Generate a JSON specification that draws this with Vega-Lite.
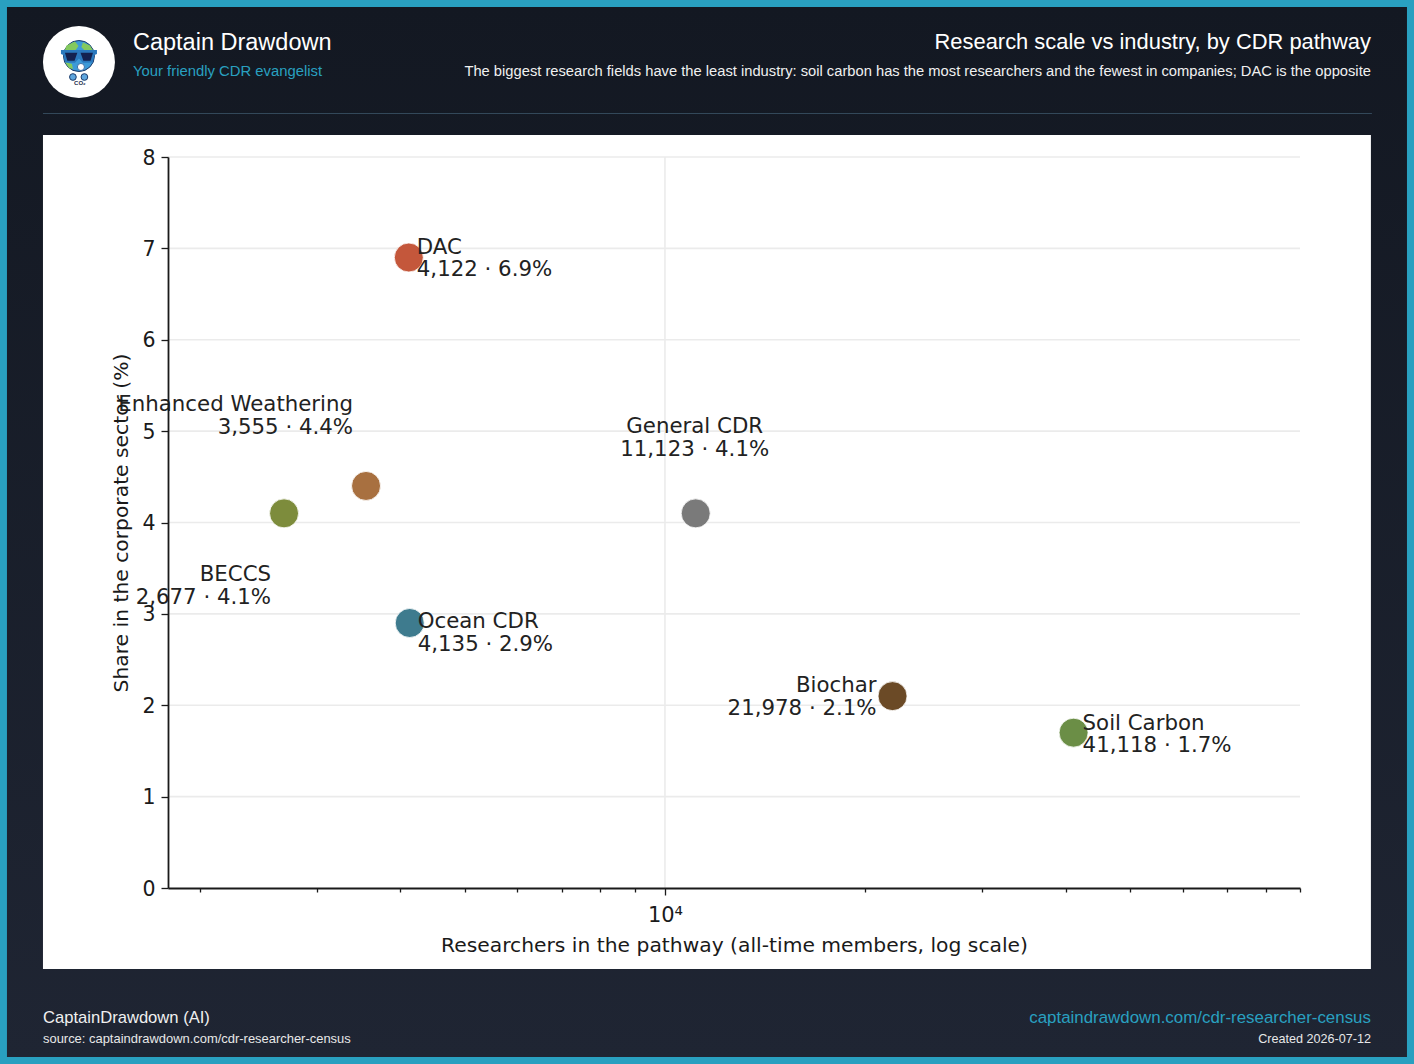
{
  "$schema": "https://vega.github.io/schema/vega-lite/v6.json",
  "width": 1132,
  "height": 731,
  "autosize": "none",
  "padding": {"left": 168, "top": 157, "right": 114, "bottom": 176},
  "background": "#29a0c0",
  "config": {"view": {"stroke": null}},
  "layer": [
    {
      "data": {"values": [{"part": "page"}]},
      "mark": {"type": "rect", "fill": {"gradient": "linear", "x1": 0, "y1": 0, "x2": 0, "y2": 1, "stops": [{"offset": 0, "color": "#131822"}, {"offset": 1, "color": "#1f2533"}]}},
      "encoding": {
        "x": {"datum": 1026.3, "type": "quantitative"},
        "x2": {"datum": 130310},
        "y": {"datum": 9.6416, "type": "quantitative"},
        "y2": {"datum": -1.8495}
      }
    },
    {
      "data": {"values": [{"part": "panel"}]},
      "mark": {"type": "rect", "fill": "#ffffff"},
      "encoding": {
        "x": {"datum": 1162.5, "type": "quantitative"},
        "x2": {"datum": 115030},
        "y": {"datum": 8.2408, "type": "quantitative"},
        "y2": {"datum": -0.8865}
      }
    },
    {
      "data": {"values": [{"part": "divider"}]},
      "mark": {"type": "rule", "color": "#34495c", "strokeWidth": 1},
      "encoding": {
        "x": {"datum": 1162.5, "type": "quantitative"},
        "x2": {"datum": 115430},
        "y": {"datum": 8.4761, "type": "quantitative"}
      }
    },
    {
      "data": {"values": [{"gridY": 1}, {"gridY": 2}, {"gridY": 3}, {"gridY": 4}, {"gridY": 5}, {"gridY": 6}, {"gridY": 7}, {"gridY": 8}]},
      "mark": {"type": "rule", "color": "#ebebeb", "strokeWidth": 1.6},
      "encoding": {"y": {"field": "gridY", "type": "quantitative"}}
    },
    {
      "data": {"values": [{"gridX": 10000}]},
      "mark": {"type": "rule", "color": "#ebebeb", "strokeWidth": 1.6},
      "encoding": {"x": {"field": "gridX", "type": "quantitative"}}
    },
    {
      "data": {
        "values": [
          {"pathway": "DAC", "researchers": 4122, "share": 6.9, "label": "DAC\n4,122 · 6.9%"},
          {"pathway": "Enhanced Weathering", "researchers": 3555, "share": 4.4, "label": "Enhanced Weathering\n3,555 · 4.4%"},
          {"pathway": "BECCS", "researchers": 2677, "share": 4.1, "label": "BECCS\n2,677 · 4.1%"},
          {"pathway": "General CDR", "researchers": 11123, "share": 4.1, "label": "General CDR\n11,123 · 4.1%"},
          {"pathway": "Ocean CDR", "researchers": 4135, "share": 2.9, "label": "Ocean CDR\n4,135 · 2.9%"},
          {"pathway": "Biochar", "researchers": 21978, "share": 2.1, "label": "Biochar\n21,978 · 2.1%"},
          {"pathway": "Soil Carbon", "researchers": 41118, "share": 1.7, "label": "Soil Carbon\n41,118 · 1.7%"}
        ]
      },
      "encoding": {
        "x": {
          "field": "researchers",
          "type": "quantitative",
          "scale": {"type": "log", "domain": [1791.7, 90000], "nice": false, "zero": false},
          "axis": {
            "title": "Researchers in the pathway (all-time members, log scale)",
            "titleFont": "DejaVu Sans",
            "titleFontSize": 20.3,
            "titleFontWeight": "normal",
            "titleColor": "#1a1a1a",
            "titlePadding": 10,
            "labelFont": "DejaVu Sans",
            "labelFontSize": 21,
            "labelColor": "#1a1a1a",
            "labelPadding": 9,
            "labelOverlap": false,
            "labelFlush": false,
            "labelBound": false,
            "values": [2000, 3000, 4000, 5000, 6000, 7000, 8000, 9000, 10000, 20000, 30000, 40000, 50000, 60000, 70000, 80000, 90000],
            "labelExpr": "datum.value == 10000 ? '10⁴' : ''",
            "tickSize": {"condition": {"test": "datum.value == 10000", "value": 7}, "value": 4},
            "tickColor": "#1a1a1a",
            "tickWidth": 1.3,
            "domainColor": "#1a1a1a",
            "domainWidth": 1.8,
            "grid": false,
            "zindex": 1
          }
        },
        "y": {
          "field": "share",
          "type": "quantitative",
          "scale": {"domain": [0, 8], "nice": false},
          "axis": {
            "title": "Share in the corporate sector (%)",
            "titleFont": "DejaVu Sans",
            "titleFontSize": 20.3,
            "titleFontWeight": "normal",
            "titleColor": "#1a1a1a",
            "titlePadding": 10,
            "labelFont": "DejaVu Sans",
            "labelFontSize": 20.5,
            "labelColor": "#1a1a1a",
            "labelPadding": 6,
            "labelOffset": 1,
            "format": "d",
            "values": [0, 1, 2, 3, 4, 5, 6, 7, 8],
            "tickSize": 7,
            "tickColor": "#1a1a1a",
            "tickWidth": 1.3,
            "domainColor": "#1a1a1a",
            "domainWidth": 1.8,
            "grid": false,
            "zindex": 1
          }
        }
      },
      "layer": [
        {
          "mark": {"type": "point", "filled": true, "size": 841, "opacity": 1, "stroke": "#ffffff", "strokeWidth": 0.8},
          "encoding": {
            "color": {
              "field": "pathway",
              "type": "nominal",
              "legend": null,
              "scale": {
                "domain": ["DAC", "Enhanced Weathering", "BECCS", "General CDR", "Ocean CDR", "Biochar", "Soil Carbon"],
                "range": ["#c4573b", "#a87040", "#7d8c3c", "#7a7a7a", "#3e7b8e", "#6b4a26", "#6b8e46"]
              }
            }
          }
        },
        {
          "transform": [{"filter": "datum.pathway == 'DAC'"}],
          "mark": {"type": "text", "align": "left", "baseline": "middle", "dx": 8, "dy": -10, "lineBreak": "\n", "lineHeight": 22.6, "font": "DejaVu Sans", "fontSize": 21.3, "color": "#222222"},
          "encoding": {"text": {"field": "label"}}
        },
        {
          "transform": [{"filter": "datum.pathway == 'Ocean CDR'"}],
          "mark": {"type": "text", "align": "left", "baseline": "middle", "dx": 8, "dy": -1, "lineBreak": "\n", "lineHeight": 22.6, "font": "DejaVu Sans", "fontSize": 21.3, "color": "#222222"},
          "encoding": {"text": {"field": "label"}}
        },
        {
          "transform": [{"filter": "datum.pathway == 'Soil Carbon'"}],
          "mark": {"type": "text", "align": "left", "baseline": "middle", "dx": 9, "dy": -9, "lineBreak": "\n", "lineHeight": 22.6, "font": "DejaVu Sans", "fontSize": 21.3, "color": "#222222"},
          "encoding": {"text": {"field": "label"}}
        },
        {
          "transform": [{"filter": "datum.pathway == 'Biochar'"}],
          "mark": {"type": "text", "align": "right", "baseline": "middle", "dx": -16, "dy": -10, "lineBreak": "\n", "lineHeight": 22.6, "font": "DejaVu Sans", "fontSize": 21.3, "color": "#222222"},
          "encoding": {"text": {"field": "label"}}
        },
        {
          "transform": [{"filter": "datum.pathway == 'General CDR'"}],
          "mark": {"type": "text", "align": "center", "baseline": "middle", "dx": -1, "dy": -86, "lineBreak": "\n", "lineHeight": 22.6, "font": "DejaVu Sans", "fontSize": 21.3, "color": "#222222"},
          "encoding": {"text": {"field": "label"}}
        },
        {
          "transform": [{"filter": "datum.pathway == 'Enhanced Weathering'"}],
          "mark": {"type": "text", "align": "right", "baseline": "middle", "dx": -13, "dy": -81, "lineBreak": "\n", "lineHeight": 22.6, "font": "DejaVu Sans", "fontSize": 21.3, "color": "#222222"},
          "encoding": {"text": {"field": "label"}}
        },
        {
          "transform": [{"filter": "datum.pathway == 'BECCS'"}],
          "mark": {"type": "text", "align": "right", "baseline": "middle", "dx": -13, "dy": 62, "lineBreak": "\n", "lineHeight": 22.6, "font": "DejaVu Sans", "fontSize": 21.3, "color": "#222222"},
          "encoding": {"text": {"field": "label"}}
        }
      ]
    },
    {
      "data": {"values": [{"label": "Captain Drawdown"}]},
      "mark": {"type": "text", "align": "left", "baseline": "middle", "font": "Liberation Sans", "fontSize": 23.5, "color": "#ffffff"},
      "encoding": {
        "x": {"datum": 1587.1, "type": "quantitative"},
        "y": {"datum": 9.2476, "type": "quantitative"},
        "text": {"field": "label"}
      }
    },
    {
      "data": {"values": [{"label": "Your friendly CDR evangelist"}]},
      "mark": {"type": "text", "align": "left", "baseline": "middle", "font": "Liberation Sans", "fontSize": 14.85, "color": "#29a0c0"},
      "encoding": {
        "x": {"datum": 1587.1, "type": "quantitative"},
        "y": {"datum": 8.9303, "type": "quantitative"},
        "text": {"field": "label"}
      }
    },
    {
      "data": {"values": [{"label": "Research scale vs industry, by CDR pathway"}]},
      "mark": {"type": "text", "align": "right", "baseline": "middle", "font": "Liberation Sans", "fontSize": 21.9, "color": "#ffffff"},
      "encoding": {
        "x": {"datum": 115030, "type": "quantitative"},
        "y": {"datum": 9.2585, "type": "quantitative"},
        "text": {"field": "label"}
      }
    },
    {
      "data": {"values": [{"label": "The biggest research fields have the least industry: soil carbon has the most researchers and the fewest in companies; DAC is the opposite"}]},
      "mark": {"type": "text", "align": "right", "baseline": "middle", "font": "Liberation Sans", "fontSize": 14.72, "color": "#f0f0f0"},
      "encoding": {
        "x": {"datum": 115030, "type": "quantitative"},
        "y": {"datum": 8.9303, "type": "quantitative"},
        "text": {"field": "label"}
      }
    },
    {
      "data": {"values": [{"label": "CaptainDrawdown (AI)"}]},
      "mark": {"type": "text", "align": "left", "baseline": "middle", "font": "Liberation Sans", "fontSize": 16.6, "color": "#f0f0f0"},
      "encoding": {
        "x": {"datum": 1162.5, "type": "quantitative"},
        "y": {"datum": -1.4227, "type": "quantitative"},
        "text": {"field": "label"}
      }
    },
    {
      "data": {"values": [{"label": "source: captaindrawdown.com/cdr-researcher-census"}]},
      "mark": {"type": "text", "align": "left", "baseline": "middle", "font": "Liberation Sans", "fontSize": 12.95, "color": "#e8e8e8"},
      "encoding": {
        "x": {"datum": 1162.5, "type": "quantitative"},
        "y": {"datum": -1.658, "type": "quantitative"},
        "text": {"field": "label"}
      }
    },
    {
      "data": {"values": [{"label": "captaindrawdown.com/cdr-researcher-census"}]},
      "mark": {"type": "text", "align": "right", "baseline": "middle", "font": "Liberation Sans", "fontSize": 16.9, "color": "#29a0c0"},
      "encoding": {
        "x": {"datum": 115030, "type": "quantitative"},
        "y": {"datum": -1.4227, "type": "quantitative"},
        "text": {"field": "label"}
      }
    },
    {
      "data": {"values": [{"label": "Created 2026-07-12"}]},
      "mark": {"type": "text", "align": "right", "baseline": "middle", "font": "Liberation Sans", "fontSize": 12.6, "color": "#e8e8e8"},
      "encoding": {
        "x": {"datum": 115030, "type": "quantitative"},
        "y": {"datum": -1.658, "type": "quantitative"},
        "text": {"field": "label"}
      }
    },
    {
      "data": {"values": [{"part": "logo disc"}]},
      "mark": {"type": "point", "filled": true, "shape": "circle", "size": 5184, "opacity": 1, "color": "#ffffff"},
      "encoding": {
        "x": {"datum": 1316.6, "type": "quantitative"},
        "y": {"datum": 9.0397, "type": "quantitative"}
      }
    },
    {
      "data": {"values": [{"part": "logo globe"}]},
      "mark": {"type": "point", "filled": true, "shape": "circle", "size": 961, "opacity": 1, "fill": "#3c9ad8", "stroke": "#1d3b6b", "strokeWidth": 1},
      "encoding": {
        "x": {"datum": 1316.6, "type": "quantitative"},
        "y": {"datum": 9.1053, "type": "quantitative"}
      }
    },
    {
      "data": {"values": [{"part": "logo land"}]},
      "mark": {"type": "point", "filled": true, "size": 1600, "opacity": 1, "color": "#84c95e", "shape": "M-0.62 -0.72L-0.2 -0.92L-0.02 -0.7L-0.2 -0.45L-0.72 -0.45ZM0.2 -0.88L0.55 -0.72L0.72 -0.45L0.3 -0.45L0.12 -0.65ZM-0.7 0.1L-0.35 0.2L-0.3 0.45L-0.5 0.4Z"},
      "encoding": {
        "x": {"datum": 1316.6, "type": "quantitative"},
        "y": {"datum": 9.0616, "type": "quantitative"}
      }
    },
    {
      "data": {"values": [{"part": "logo glasses"}]},
      "mark": {"type": "point", "filled": true, "size": 1600, "opacity": 1, "color": "#2a78bd", "shape": "M-0.9 -0.5L0.9 -0.5L0.9 -0.3L0.78 -0.25L0.68 0.12L0.2 0.14L0 -0.08L-0.2 0.14L-0.68 0.12L-0.78 -0.25L-0.9 -0.3Z"},
      "encoding": {
        "x": {"datum": 1316.6, "type": "quantitative"},
        "y": {"datum": 9.0616, "type": "quantitative"}
      }
    },
    {
      "data": {"values": [{"part": "logo lenses"}]},
      "mark": {"type": "point", "filled": true, "size": 1600, "opacity": 1, "color": "#14214f", "shape": "M-0.7 -0.36L-0.08 -0.36L-0.22 0.04L-0.58 0.04ZM0.08 -0.36L0.7 -0.36L0.58 0.04L0.22 0.04Z"},
      "encoding": {
        "x": {"datum": 1316.6, "type": "quantitative"},
        "y": {"datum": 9.0616, "type": "quantitative"}
      }
    },
    {
      "data": {"values": [{"part": "logo puff"}]},
      "mark": {"type": "point", "filled": true, "shape": "circle", "size": 50, "opacity": 1, "fill": "#ffffff", "stroke": "#3c6fa8", "strokeWidth": 1},
      "encoding": {
        "x": {"datum": 1325.6, "type": "quantitative"},
        "y": {"datum": 8.985, "type": "quantitative"}
      }
    },
    {
      "data": {"values": [{"part": "logo cloud left"}]},
      "mark": {"type": "point", "filled": true, "shape": "circle", "size": 45, "opacity": 1, "fill": "#5ea6de", "stroke": "#1d3b6b", "strokeWidth": 1},
      "encoding": {
        "x": {"datum": 1289.4, "type": "quantitative"},
        "y": {"datum": 8.8755, "type": "quantitative"}
      }
    },
    {
      "data": {"values": [{"part": "logo cloud right"}]},
      "mark": {"type": "point", "filled": true, "shape": "circle", "size": 45, "opacity": 1, "fill": "#5ea6de", "stroke": "#1d3b6b", "strokeWidth": 1},
      "encoding": {
        "x": {"datum": 1341.7, "type": "quantitative"},
        "y": {"datum": 8.8755, "type": "quantitative"}
      }
    },
    {
      "data": {"values": [{"label": "CO₂"}]},
      "mark": {"type": "text", "align": "center", "baseline": "middle", "font": "Liberation Sans", "fontWeight": "bold", "fontSize": 6, "color": "#1d2b4a"},
      "encoding": {
        "x": {"datum": 1321, "type": "quantitative"},
        "y": {"datum": 8.8099, "type": "quantitative"},
        "text": {"field": "label"}
      }
    }
  ]
}
